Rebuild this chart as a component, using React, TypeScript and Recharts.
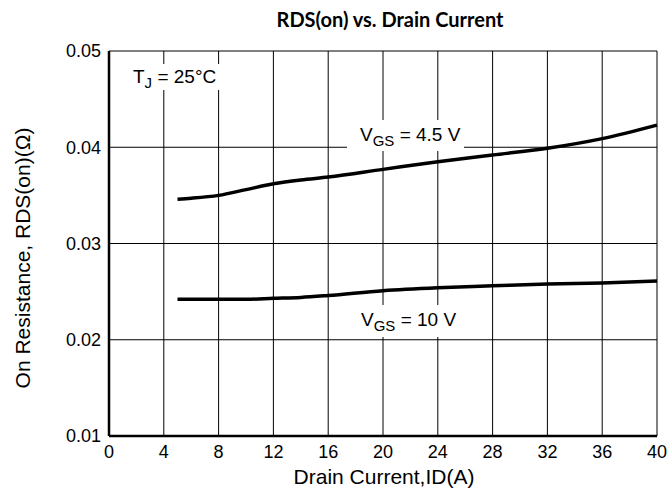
import React from 'react';
import { LineChart, Line, XAxis, YAxis, CartesianGrid } from 'recharts';

const current = [5, 6, 8, 10, 12, 14, 16, 20, 24, 28, 32, 36, 40];
const vgs45 = [0.0346, 0.0347, 0.0350, 0.0356, 0.0362, 0.0366, 0.0369, 0.0377, 0.0385, 0.0392, 0.0399, 0.0409, 0.0423];
const vgs10 = [0.0242, 0.0242, 0.0242, 0.0242, 0.0243, 0.0244, 0.0246, 0.0251, 0.0254, 0.0256, 0.0258, 0.0259, 0.0261];
const xTicks = [0, 4, 8, 12, 16, 20, 24, 28, 32, 36, 40];
const yTicks = [0.01, 0.02, 0.03, 0.04, 0.05];

const font = '"Liberation Sans", Arial, sans-serif';

export default function App() {
    const data = React.useMemo(
        () => current.map((id, i) => ({ id, v45: vgs45[i], v10: vgs10[i] })),
        []
    );

    const note: React.CSSProperties = {
        position: 'absolute', background: '#fff', fontFamily: font, fontSize: 19,
        color: '#000', whiteSpace: 'nowrap', lineHeight: '22px',
    };
    const sub: React.CSSProperties = { fontSize: 15, verticalAlign: -5, lineHeight: '10px' };

    return (
        <div style={{ position: 'absolute', left: 0, top: 0, width: 672, height: 493, background: '#fff' }}>
            <LineChart width={672} height={493} data={data} margin={{ top: 51, right: 15, bottom: 0, left: 0 }}>
                <CartesianGrid stroke="#000" strokeWidth={1} horizontalValues={yTicks} verticalValues={xTicks} />
                <XAxis
                    dataKey="id" type="number" domain={[0, 40]} ticks={xTicks}
                    tickLine={false} stroke="#000" strokeWidth={2.5} tickMargin={3}
                    tick={{ fill: '#000', fontSize: 18, fontFamily: font }} height={57}
                />
                <YAxis
                    type="number" domain={[0.01, 0.05]} ticks={yTicks} width={109}
                    tickLine={false} stroke="#000" strokeWidth={2.5} tickMargin={2}
                    tick={{ fill: '#000', fontSize: 18, fontFamily: font }}
                    tickFormatter={(v: number) => v.toFixed(2)}
                />
                <Line dataKey="v45" type="monotone" stroke="#000" strokeWidth={3.5} dot={false} isAnimationActive={false} />
                <Line dataKey="v10" type="monotone" stroke="#000" strokeWidth={3.5} dot={false} isAnimationActive={false} />
            </LineChart>

            <div style={{ position: 'absolute', left: 0, width: 780, top: 7, textAlign: 'center', fontFamily: 'Lato, sans-serif', fontWeight: 700, fontSize: 20 }}>
                RDS(on) vs. Drain Current
            </div>
            <div style={{ ...note, left: 128, top: 64, padding: '2px 5px' }}>
                T<span style={sub}>J</span> = 25°C
            </div>
            <div style={{ ...note, left: 347, top: 120, padding: '4px 4px 5px 13px' }}>
                V<span style={sub}>GS</span> = 4.5 V
            </div>
            <div style={{ ...note, left: 349, top: 305, padding: '4px 4px 6px 12px' }}>
                V<span style={sub}>GS</span> = 10 V
            </div>
            <div style={{ ...note, fontSize: 21, background: 'transparent', left: 0, width: 768, top: 466, textAlign: 'center' }}>
                Drain Current,ID(A)
            </div>
            <div style={{
                ...note, fontSize: 21, background: 'transparent', left: 23, top: 258, width: 0, height: 0,
            }}>
                <div style={{ position: 'absolute', transform: 'translate(-50%, -50%) rotate(-90deg)' }}>
                    On Resistance, RDS(on)(Ω)
                </div>
            </div>
        </div>
    );
}
